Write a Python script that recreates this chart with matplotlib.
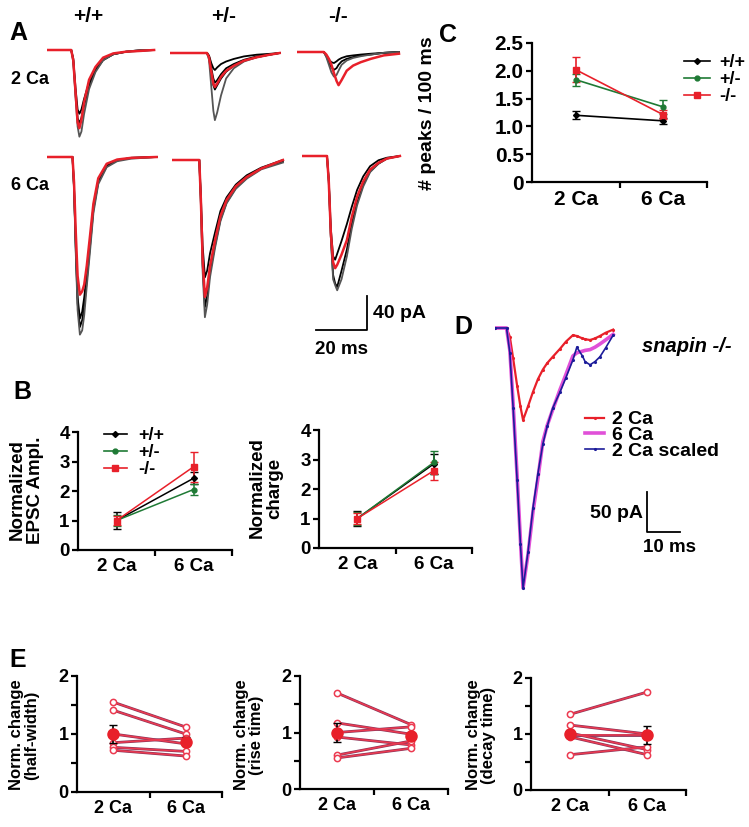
import numpy as np
import matplotlib
matplotlib.use('Agg')
import matplotlib.pyplot as plt
from matplotlib.lines import Line2D

plt.rcParams['font.family'] = ['Liberation Sans', 'DejaVu Sans']
plt.rcParams['font.weight'] = 'bold'
plt.rcParams['axes.labelweight'] = 'bold'

W, H = 749, 827

# ---- panel A traces (ms, pA) ----
t_wt2 = [0, 9.5, 10.3, 11.2, 12.0, 12.7, 13.5, 14.5, 16.5, 19, 22, 26, 31, 37, 42]
red_wt2 = [0, 0, -12, -50, -85, -92, -82, -62, -35, -20, -9, -4, -2, -1, 0]
blk_wt2 = [[0, 0, -10, -45, -70, -75, -70, -58, -38, -22, -11, -5, -2, -1, 0],
           [0, 0, -12, -52, -80, -86, -80, -66, -42, -24, -12, -5, -2, 0, 0],
           [0, 0, -14, -55, -90, -102, -96, -76, -46, -26, -12, -5, -2, 0, 0]]

t_het2 = [0, 14.5, 15.3, 16.2, 17.0, 17.6, 18.5, 20, 22, 25, 29, 34, 39, 43]
red_het2 = [0, 0, -5, -22, -36, -40, -36, -28, -21, -15, -9, -5, -2, 0]
blk_het2 = [[0, 0, -3, -12, -18, -20, -17, -13, -10, -7, -4, -2, -1, 0],
            [0, 0, -4, -18, -30, -35, -32, -25, -18, -13, -8, -4, -2, 0],
            [0, 0, -5, -24, -38, -43, -38, -30, -22, -15, -9, -5, -2, 0],
            [0, 0, -8, -40, -68, -79, -70, -50, -30, -18, -10, -5, -2, 0]]

t_ko2 = [0, 10.5, 11.5, 12.5, 13.5, 14.5, 15.5, 16.3, 17.5, 19.5, 22, 25, 29, 34, 40]
red_ko2 = [0, 0, -3, -8, -15, -25, -34, -39, -33, -22, -16, -12, -8, -4, -2]
blk_ko2 = [[0, 0, -4, -9, -12, -13, -11, -9, -7, -5, -4, -3, -2, -1, 0],
           [0, 0, -5, -12, -18, -21, -19, -15, -11, -8, -6, -4, -3, -1, 0],
           [0, 0, -6, -15, -24, -29, -27, -22, -15, -10, -7, -5, -3, -1, 0]]

t_wt6 = [0, 10.0, 10.6, 11.3, 12.0, 12.9, 13.8, 14.6, 15.6, 16.9, 18.2, 20.1, 23.4, 27.5, 33, 43]
red_wt6 = [0, 0, -30, -90, -140, -162, -158, -150, -128, -92, -55, -25, -8, -3, -1, 0]
blk_wt6 = [[0, 0, -35, -105, -165, -190, -182, -165, -138, -98, -58, -28, -10, -4, -1, 0],
           [0, 0, -36, -110, -172, -200, -192, -176, -145, -104, -62, -30, -11, -4, -1, 0],
           [0, 0, -38, -115, -180, -209, -204, -186, -152, -110, -66, -32, -12, -5, -2, 0]]

t_het6 = [0, 10.7, 11.3, 12.0, 12.9, 13.8, 14.9, 16.9, 19, 21.4, 25, 29.3, 35, 43.5]
red_het6 = [0, 0, -45, -115, -161, -150, -125, -94, -66, -47, -31, -20, -10, 0]
blk_het6 = [[0, 0, -40, -100, -138, -130, -110, -85, -60, -44, -29, -18, -9, 0],
            [0, 0, -48, -122, -173, -160, -132, -100, -70, -50, -33, -21, -10, -2],
            [0, 0, -50, -130, -185, -170, -138, -103, -72, -51, -34, -22, -11, -3]]

t_ko6 = [0, 9.8, 10.5, 11.3, 12.2, 13.0, 13.8, 15.5, 17.6, 19.5, 21.6, 24, 26.7, 30, 33.3, 38.4]
red_ko6 = [0, 0, -30, -90, -125, -132, -128, -116, -99, -72, -48, -30, -16, -8, -3, 0]
blk_ko6 = [[0, 0, -28, -85, -118, -122, -115, -100, -80, -60, -40, -24, -12, -5, -2, 0],
           [0, 0, -30, -95, -140, -150, -154, -135, -110, -80, -55, -34, -18, -9, -3, 0],
           [0, 0, -30, -95, -145, -152, -158, -145, -118, -86, -58, -36, -19, -9, -3, 0]]

# ---- panel D traces ----
t_d = [0, 3.5, 4.5, 5.5, 6.7, 7.7, 8.5, 10, 11.5, 13, 14.5, 15.8, 17.5, 19.7,
       21.5, 23.6, 24.8, 26.5, 27.3, 28.8, 30.3, 31.8, 33.5, 35.8]
d_2ca = [0, 0, -11, -38, -72, -98, -115, -98, -80, -64, -52, -44, -36, -26,
         -17, -9, -10, -13, -14, -15, -13, -10, -6, -2]
d_6ca = [0, 0, -28, -95, -185, -265, -325, -283, -230, -188, -142, -122, -102, -77,
         -58, -35, -31, -29, -28, -27, -24, -20, -15, -8]
d_scaled = [0, 0, -31, -100, -190, -270, -325, -280, -225, -182, -145, -123, -100, -80,
            -62, -40, -24, -35, -42, -46, -42, -36, -25, -9]

# ---- panels B, C ----
conds = ['2 Ca', '6 Ca']
genos = ['+/+', '+/-', '-/-']
peaks = [[1.20, 1.10], [1.84, 1.35], [2.02, 1.21]]
peaks_err = [[0.07, 0.05], [0.11, 0.12], [0.23, 0.08]]
ampl = [[1.0, 2.43], [1.0, 2.05], [1.0, 2.82]]
ampl_err = [[0.30, 0.20], [0.20, 0.18], [0.15, 0.50]]
charge = [[1.0, 2.85], [1.0, 2.90], [1.0, 2.62]]
charge_err = [[0.25, 0.35], [0.22, 0.40], [0.18, 0.30]]

# ---- panel E ----
hw_2 = [1.55, 1.41, 1.00, 0.85, 0.77, 0.72]
hw_6 = [1.12, 1.00, 0.83, 0.93, 0.70, 0.62]
hw_mean = [1.00, 0.87]
hw_err = [0.15, 0.08]
rt_2 = [1.70, 1.17, 1.00, 0.92, 0.60, 0.55]
rt_6 = [1.14, 0.97, 1.10, 0.78, 0.85, 0.72]
rt_mean = [1.00, 0.94]
rt_err = [0.17, 0.06]
dt_2 = [1.35, 1.16, 1.02, 0.98, 0.95, 0.63]
dt_6 = [1.75, 1.00, 0.72, 0.98, 0.63, 0.77]
dt_mean = [1.00, 0.99]
dt_err = [0.07, 0.16]

geno_colors = ['black', '#1f7a35', '#e8202a']
geno_markers = ['D', 'o', 's']
geno_ms = [3, 3.5, 5]
RED = '#e8202a'

fig = plt.figure(figsize=(W / 100, H / 100), dpi=100)


def rect(l, t, r, b):
    return [l / W, 1 - b / H, (r - l) / W, (b - t) / H]


def trace_ax(left, base, xlim, ylim, ms_px, pa_px):
    ax = fig.add_axes(rect(left + xlim[0] * ms_px, base - ylim[1] * pa_px,
                           left + xlim[1] * ms_px, base - ylim[0] * pa_px))
    ax.set_xlim(xlim)
    ax.set_ylim(ylim)
    ax.axis('off')
    return ax


def style_ax(ax, ymax, yticks, ylabels, fs):
    ax.set_xlim(0, 2)
    ax.set_ylim(0, ymax)
    for s in ['top', 'right']:
        ax.spines[s].set_visible(False)
    for s in ['left', 'bottom']:
        ax.spines[s].set_linewidth(1.6)
    ax.set_xticks([0.5, 1.5])
    ax.set_xticklabels(conds, fontsize=fs, fontweight='bold')
    ax.set_xticks([1, 2], minor=True)
    ax.tick_params(axis='x', which='major', length=0, pad=6)
    ax.tick_params(axis='x', which='minor', length=4, width=1.6)
    ax.set_yticks(yticks)
    ax.set_yticklabels(ylabels, fontsize=fs, fontweight='bold')
    ax.tick_params(axis='y', which='both', length=4, width=1.6, pad=2)
    ax.patch.set_alpha(0)


def geno_handles():
    return [Line2D([], [], color=geno_colors[i], marker=geno_markers[i], ms=geno_ms[i], lw=1.2)
            for i in range(3)]


# ---- A ----
ms_a, pa_a = 2.55, 0.85
a_panels = [(47, 50, t_wt2, red_wt2, blk_wt2), (170, 53, t_het2, red_het2, blk_het2),
            (297, 52, t_ko2, red_ko2, blk_ko2), (47, 157, t_wt6, red_wt6, blk_wt6),
            (172, 160, t_het6, red_het6, blk_het6), (302, 156, t_ko6, red_ko6, blk_ko6)]
for left, base, t, red, blks in a_panels:
    ax = trace_ax(left, base, (0, 45), (-240, 10), ms_a, pa_a)
    for k, b in enumerate(blks):
        col = '#555555' if k == len(blks) - 1 else 'black'
        ax.plot(t, b, color=col, lw=1.3)
    ax.plot(t, red, color=RED, lw=1.8)
scale_ax = ax
scale_ax.plot([25.5, 25.5, 5.5], [-165, -205, -205], color='black', lw=1.3, clip_on=False)
scale_ax.text(28, -185, '40 pA', fontsize=14, fontweight='bold', va='center', ha='left')
scale_ax.text(15.5, -218, '20 ms', fontsize=13.5, fontweight='bold', va='top', ha='center')

fig.text(18 / W, 1 - 33 / H, 'A', fontsize=18, fontweight='bold', ha='center', va='center')
for x, g in zip([88, 224, 338], genos):
    fig.text(x / W, 1 - 16 / H, g, fontsize=15, fontweight='bold', ha='center', va='center')
fig.text(30 / W, 1 - 80 / H, '2 Ca', fontsize=13, fontweight='bold', ha='center', va='center')
fig.text(30 / W, 1 - 185 / H, '6 Ca', fontsize=13, fontweight='bold', ha='center', va='center')

# ---- C ----
axc = fig.add_axes(rect(532, 43, 707, 182))
for i in range(3):
    axc.errorbar([0.5, 1.5], peaks[i], yerr=peaks_err[i], color=geno_colors[i],
                 marker=geno_markers[i], ms=geno_ms[i], lw=1.2, capsize=3)
style_ax(axc, 2.5, [0, 0.5, 1, 1.5, 2, 2.5], ['0', '0.5', '1.0', '1.5', '2.0', '2.5'], 15)
axc.legend(geno_handles(), genos, loc='upper left', bbox_to_anchor=(0.83, 0.97),
           frameon=False, fontsize=13, handlelength=1.4, labelspacing=0.0,
           handletextpad=0.5, borderaxespad=0)
fig.text(428 / W, 1 - 113 / H, '# peaks / 100 ms', fontsize=14, fontweight='bold',
         rotation=90, ha='center', va='center')
fig.text(448 / W, 1 - 35 / H, 'C', fontsize=18, fontweight='bold', ha='center', va='center')

# ---- B ----
axb1 = fig.add_axes(rect(78, 432, 232, 550))
for i in range(3):
    axb1.errorbar([0.5, 1.5], ampl[i], yerr=ampl_err[i], color=geno_colors[i],
                  marker=geno_markers[i], ms=geno_ms[i], lw=1.1, capsize=3)
style_ax(axb1, 4, [0, 1, 2, 3, 4], ['0', '1', '2', '3', '4'], 13.5)
axb1.legend(geno_handles(), genos, loc='upper left', bbox_to_anchor=(0.12, 1.1),
            frameon=False, fontsize=13, handlelength=1.3, labelspacing=0.0,
            handletextpad=0.6, borderaxespad=0)
fig.text(26 / W, 1 - 490 / H, 'Normalized\nEPSC Ampl.', fontsize=13.5, fontweight='bold',
         rotation=90, ha='center', va='center', multialignment='center', linespacing=1.1)

axb2 = fig.add_axes(rect(319, 430, 472, 548))
for i in range(3):
    axb2.errorbar([0.5, 1.5], charge[i], yerr=charge_err[i], color=geno_colors[i],
                  marker=geno_markers[i], ms=geno_ms[i], lw=1.1, capsize=3)
style_ax(axb2, 4, [0, 1, 2, 3, 4], ['0', '1', '2', '3', '4'], 13.5)
fig.text(266 / W, 1 - 488 / H, 'Normalized\ncharge', fontsize=13.5, fontweight='bold',
         rotation=90, ha='center', va='center', multialignment='center', linespacing=1.1)
fig.text(22 / W, 1 - 392 / H, 'B', fontsize=18, fontweight='bold', ha='center', va='center')

# ---- D ----
axd = trace_ax(495, 328, (0, 60), (-340, 10), 3.3, 0.8)
axd.plot(t_d, d_2ca, color=RED, lw=1.6, marker='.', ms=2.5, label='2 Ca')
axd.plot(t_d, d_6ca, color='#e050d8', lw=2.6, label='6 Ca')
axd.plot(t_d, d_scaled, color='#1c1c9a', lw=1.2, marker='.', ms=2.5, label='2 Ca scaled')
axd.plot([46, 46, 56], [-205, -255, -255], color='black', lw=1.3)
axd.text(45, -232, '50 pA', fontsize=14, fontweight='bold', ha='right', va='center')
axd.text(53, -264, '10 ms', fontsize=13.5, fontweight='bold', ha='center', va='top')
fig.legend(*axd.get_legend_handles_labels(), loc='upper left',
           bbox_to_anchor=(577 / W, 1 - 403 / H), frameon=False, fontsize=14,
           handlelength=1.0, labelspacing=-0.1, handletextpad=0.4, borderaxespad=0)
fig.text(687 / W, 1 - 346 / H, 'snapin -/-', fontsize=14.5, fontweight='bold', style='italic',
         ha='center', va='center')
fig.text(463 / W, 1 - 327 / H, 'D', fontsize=18, fontweight='bold', ha='center', va='center')

# ---- E ----
e_sets = [(hw_2, hw_6, hw_mean, hw_err, 'Norm. change\n(half-width)', (77, 676, 222, 792), 24),
          (rt_2, rt_6, rt_mean, rt_err, 'Norm. change\n(rise time)', (300, 676, 448, 789), 249),
          (dt_2, dt_6, dt_mean, dt_err, 'Norm. change\n(decay time)', (531, 678, 686, 790), 481)]
for v2, v6, m, e, lab, r, lx in e_sets:
    ax = fig.add_axes(rect(*r))
    for a, b in zip(v2, v6):
        ax.plot([0.5, 1.5], [a, b], color='#8a3358', lw=2.0, zorder=2)
        ax.plot([0.5, 1.5], [a, b], color='#ec3a50', lw=1.1, marker='o', ms=4.5,
                mfc='white', mec='#ec3a50', mew=1.1, zorder=3)
    ax.errorbar([0.5, 1.5], m, yerr=e, fmt='o', color=RED, ms=8, ecolor='black',
                elinewidth=1.2, capsize=3, zorder=4)
    style_ax(ax, 2, [0, 1, 2], ['0', '1', '2'], 13)
    ax.set_yticks([0.5, 1.5], minor=True)
    fig.text(lx / W, 1 - 735 / H, lab, fontsize=12, fontweight='bold', rotation=90,
             ha='center', va='center', multialignment='center', linespacing=1.05)
fig.text(18 / W, 1 - 660 / H, 'E', fontsize=18, fontweight='bold', ha='center', va='center')

fig.savefig('out.png', dpi=100)
